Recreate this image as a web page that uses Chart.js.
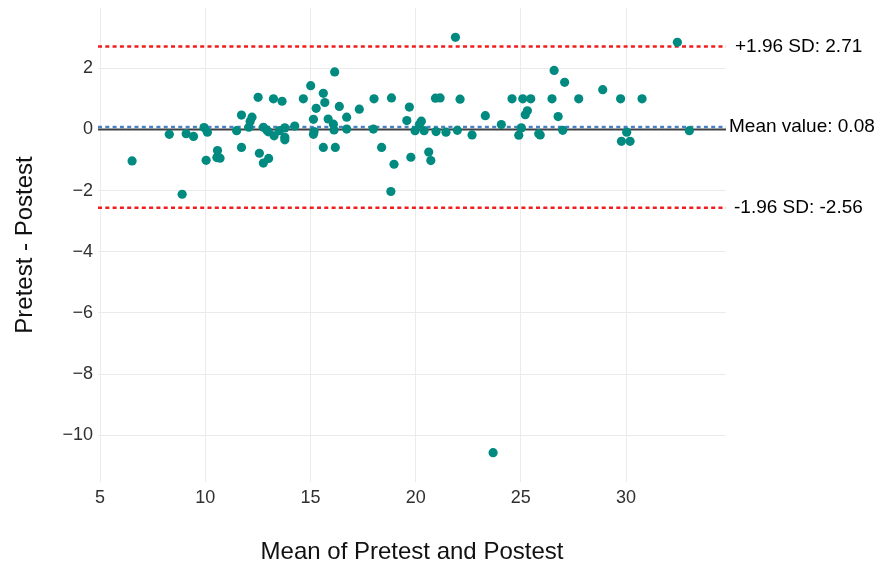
<!DOCTYPE html>
<html>
<head>
<meta charset="utf-8">
<script src="https://cdn.jsdelivr.net/npm/chart.js@4"></script>
<style>
  html, body { margin: 0; padding: 0; background: #fff; }
  #wrap { width: 894px; height: 568px; }
</style>
</head>
<body>
<div id="wrap"><canvas id="chart" width="894" height="568"></canvas></div>
<script>
// --- DATA ---
const meanVals = [
  6.52, 8.90, 8.29, 9.09, 9.44, 9.94, 10.10, 10.04, 10.58, 10.55,
  10.70, 11.49, 11.72, 11.72, 12.07, 12.13, 12.22, 12.51, 12.57, 12.76,
  13.01, 12.76, 12.92, 13.00, 13.27, 13.24, 13.65, 13.52, 13.78, 13.78,
  13.78, 14.25, 14.66, 15.01, 15.27, 15.14, 15.17, 15.14, 15.61, 15.68,
  15.61, 15.84, 16.09, 16.15, 16.12, 16.18, 16.37, 16.72, 16.72, 17.32,
  18.02, 17.99, 18.38, 18.85, 18.97, 18.82, 19.58, 19.70, 19.77, 19.97,
  20.18, 20.27, 20.40, 20.62, 20.72, 20.94, 21.16, 20.97, 21.44, 21.98,
  22.11, 22.68, 23.31, 24.07, 24.58, 24.90, 25.02, 25.09, 25.47, 25.21,
  25.31, 25.85, 25.92, 26.48, 26.58, 26.77, 26.99, 27.08, 27.75, 28.89,
  29.74, 30.03, 29.78, 30.19, 30.76, 32.44, 33.01, 21.89, 23.68
];
const diffVals = [
  -1.03, -2.12, -0.16, -0.14, -0.23, 0.06, -0.09, -1.01, -0.69, -0.92,
  -0.94, -0.04, -0.59, 0.47, 0.07, 0.26, 0.40, 1.05, -0.78, -1.10,
  -0.95, 0.07, -0.02, -0.08, -0.21, 1.00, 0.92, -0.04, 0.05, -0.26,
  -0.34, 0.11, 1.00, 1.43, 0.69, 0.33, -0.07, -0.16, 1.18, 0.88,
  -0.59, 0.34, 0.17, 1.88, -0.02, -0.59, 0.75, 0.40, 0.01, 0.66,
  1.00, 0.01, -0.59, 1.03, -1.14, -2.03, 0.29, 0.73, -0.91, -0.04,
  0.17, 0.27, -0.04, -0.74, -1.02, 1.02, 1.03, -0.07, -0.09, -0.03,
  0.99, -0.18, 0.45, 0.16, 1.00, -0.19, 0.05, 1.00, 1.00, 0.48,
  0.61, -0.14, -0.18, 1.00, 1.93, 0.42, -0.03, 1.54, 1.00, 1.30,
  1.00, -0.09, -0.39, -0.39, 1.00, 2.85, -0.04, 3.01, -10.57
];

const meanDiff = 0.08;
const upperLimit = 2.71;
const lowerLimit = -2.56;
const refZero = 0;

const limitLabels = ['+1.96 SD: 2.71', 'Mean value: 0.08', '-1.96 SD: -2.56'];
const limitValues = [upperLimit, meanDiff, lowerLimit];

const xTicks = [5, 10, 15, 20, 25, 30];
const yTicks = [2, 0, -2, -4, -6, -8, -10];
const xRange = [4.9, 34.75];
const yRange = [-11.53, 3.97];

// --- CHART ---
const FONT = '"Liberation Sans", Arial, Helvetica, sans-serif';
const points = meanVals.map((m, i) => ({ x: m, y: diffVals[i] }));
const hline = v => [{ x: xRange[0], y: v }, { x: xRange[1], y: v }];

const labelPlugin = {
  id: 'limitLabels',
  afterDatasetsDraw(chart) {
    const { ctx, chartArea, scales } = chart;
    const offs = [9, 3, 8];
    ctx.save();
    ctx.font = '19px ' + FONT;
    ctx.fillStyle = '#000';
    ctx.textAlign = 'left';
    ctx.textBaseline = 'middle';
    limitLabels.forEach((t, i) => {
      ctx.fillText(t, chartArea.right + offs[i], scales.y.getPixelForValue(limitValues[i]));
    });
    ctx.restore();
  }
};

const lineBase = { showLine: true, pointRadius: 0, pointHoverRadius: 0, fill: false, borderCapStyle: 'butt' };

new Chart(document.getElementById('chart').getContext('2d'), {
  type: 'scatter',
  data: {
    datasets: [
      {
        label: 'points',
        data: points,
        backgroundColor: '#008a80',
        borderColor: '#008a80',
        borderWidth: 0,
        pointRadius: 4.6,
        order: 0
      },
      Object.assign({ label: 'upper', data: hline(upperLimit), borderColor: '#f21d1d', borderWidth: 2.6, borderDash: [4, 3.3], order: 2 }, lineBase),
      Object.assign({ label: 'lower', data: hline(lowerLimit), borderColor: '#f21d1d', borderWidth: 2.6, borderDash: [4, 3.3], order: 2 }, lineBase),
      Object.assign({ label: 'zero', data: hline(refZero), borderColor: '#404040', borderWidth: 2, order: 3 }, lineBase),
      Object.assign({ label: 'mean', data: hline(meanDiff), borderColor: '#4a80c4', borderWidth: 2.6, borderDash: [4, 3.3], order: 1 }, lineBase)
    ]
  },
  options: {
    responsive: false,
    animation: false,
    layout: { padding: { left: 0, right: 168, top: 8, bottom: 0 } },
    plugins: { legend: { display: false }, tooltip: { enabled: false } },
    scales: {
      x: {
        type: 'linear',
        min: xRange[0], max: xRange[1],
        afterBuildTicks: s => { s.ticks = xTicks.map(v => ({ value: v })); },
        afterFit: s => { s.height = 86; s.paddingLeft = 0; s.paddingRight = 0; },
        grid: { color: '#ebebeb', lineWidth: 1, drawTicks: false },
        border: { display: false },
        ticks: { color: '#303030', font: { family: FONT, size: 18 }, padding: 5, maxRotation: 0 },
        title: { display: true, text: 'Mean of Pretest and Postest', color: '#111', font: { family: FONT, size: 24 }, padding: { top: 0, bottom: 1 } }
      },
      y: {
        type: 'linear',
        min: yRange[0], max: yRange[1],
        afterBuildTicks: s => { s.ticks = yTicks.map(v => ({ value: v })); },
        afterFit: s => { s.width = 98; s.paddingTop = 0; s.paddingBottom = 0; },
        grid: { color: '#ebebeb', lineWidth: 1, drawTicks: false },
        border: { display: false },
        ticks: {
          color: '#303030', font: { family: FONT, size: 18 }, padding: 5,
          callback: v => (v < 0 ? '\u2212' + Math.abs(v) : String(v))
        },
        title: { display: true, text: 'Pretest - Postest', color: '#111', font: { family: FONT, size: 24 }, padding: { top: 11, bottom: 0 } }
      }
    }
  },
  plugins: [labelPlugin]
});
</script>
</body>
</html>
